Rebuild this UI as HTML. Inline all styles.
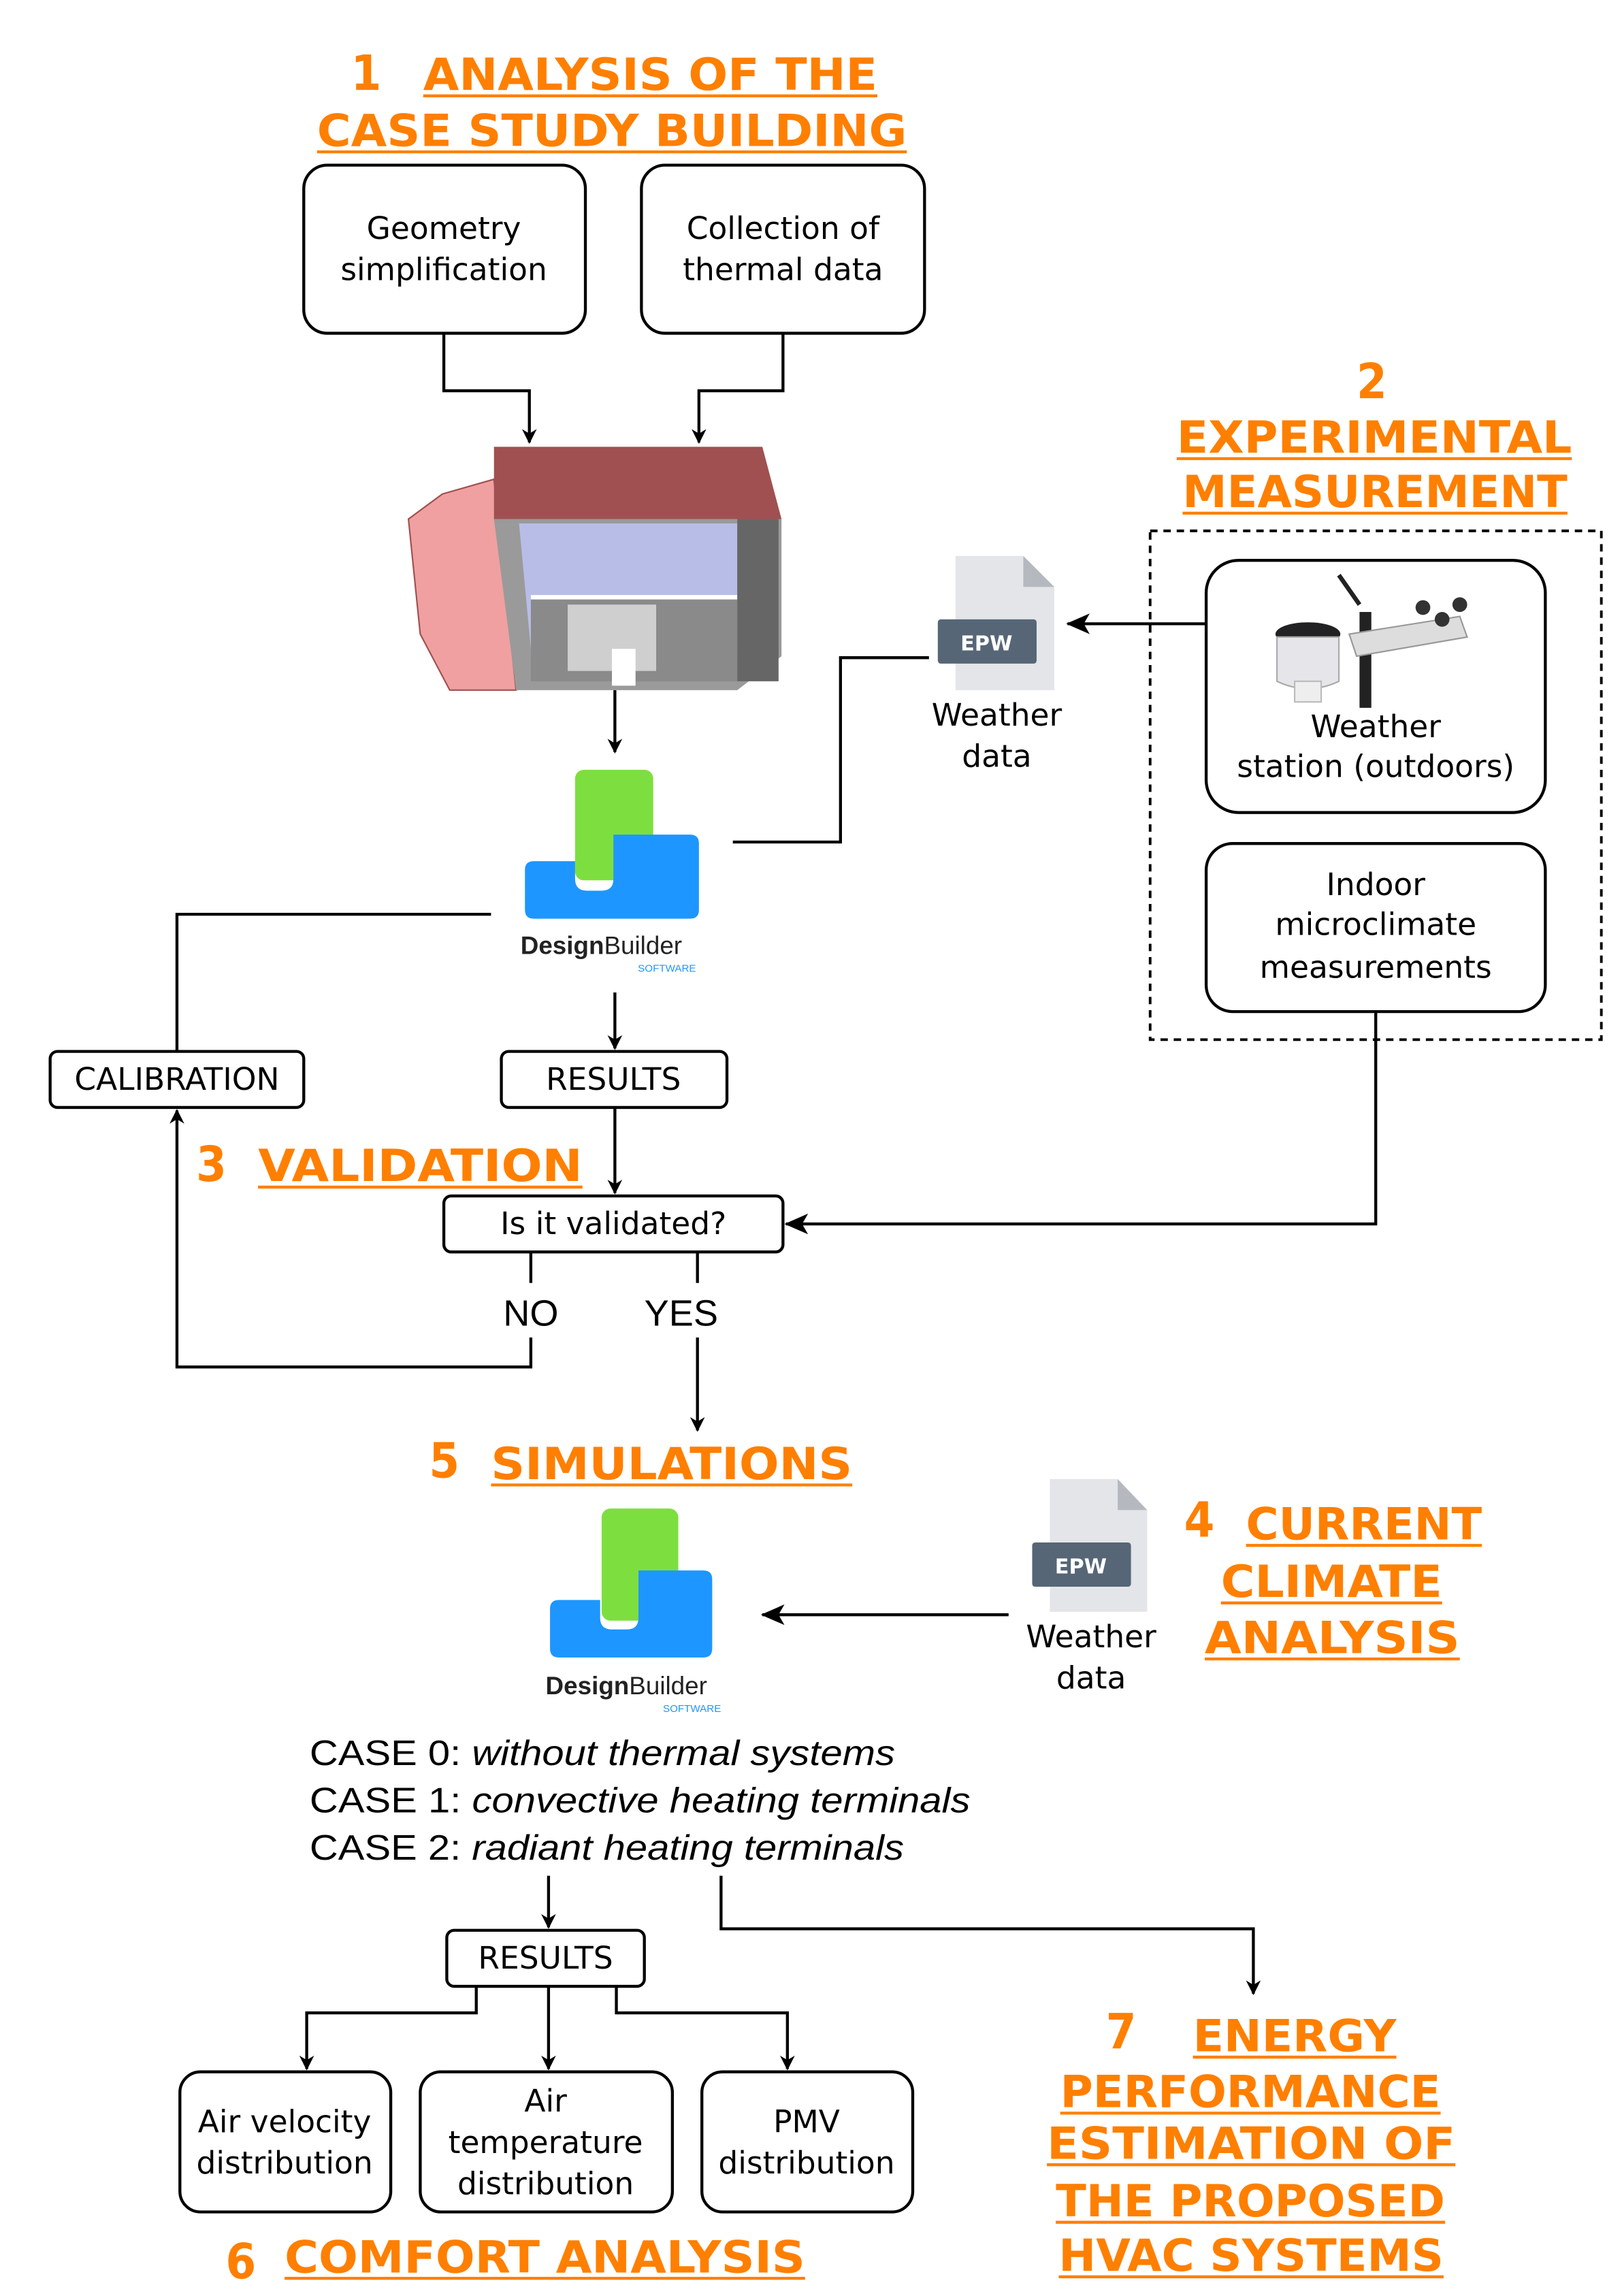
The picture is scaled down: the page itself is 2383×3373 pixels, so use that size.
<!DOCTYPE html>
<html><head><meta charset="utf-8"><style>html,body{margin:0;padding:0;background:#fff}svg{display:block}</style></head>
<body>
<svg width="2383" height="3373" viewBox="0 0 1100 1557" xmlns="http://www.w3.org/2000/svg">
<defs>
<marker id="a" markerWidth="10" markerHeight="10" refX="9" refY="5" orient="auto" markerUnits="userSpaceOnUse"><path d="M0,0 L10,5 L0,10 L3,5 Z" fill="#000"/></marker>
<marker id="b" markerWidth="16" markerHeight="14" refX="15" refY="7" orient="auto" markerUnits="userSpaceOnUse"><path d="M0,0 L16,7 L0,14 L4,7 Z" fill="#000"/></marker>
</defs>
<rect width="1100" height="1557" fill="#fff"/>
<g font-family="'DejaVu Sans Condensed','DejaVu Sans',sans-serif" font-weight="bold" fill="#FF7F00">
<text x="238" y="61" font-size="33">1</text>
<text x="287" y="61" font-size="30" textLength="308" lengthAdjust="spacingAndGlyphs">ANALYSIS OF THE</text>
<text x="215" y="99" font-size="30" textLength="400" lengthAdjust="spacingAndGlyphs">CASE STUDY BUILDING</text>
<text x="920" y="270" font-size="33">2</text>
<text x="798" y="307" font-size="30" textLength="268" lengthAdjust="spacingAndGlyphs">EXPERIMENTAL</text>
<text x="802" y="344" font-size="30" textLength="261" lengthAdjust="spacingAndGlyphs">MEASUREMENT</text>
<text x="133" y="801" font-size="33">3</text>
<text x="175" y="801" font-size="30" textLength="220" lengthAdjust="spacingAndGlyphs">VALIDATION</text>
<text x="291" y="1002" font-size="33">5</text>
<text x="333" y="1003" font-size="30" textLength="245" lengthAdjust="spacingAndGlyphs">SIMULATIONS</text>
<text x="803" y="1042" font-size="33">4</text>
<text x="845" y="1044" font-size="30" textLength="160" lengthAdjust="spacingAndGlyphs">CURRENT</text>
<text x="828" y="1083" font-size="30" textLength="150" lengthAdjust="spacingAndGlyphs">CLIMATE</text>
<text x="817" y="1121" font-size="30" textLength="173" lengthAdjust="spacingAndGlyphs">ANALYSIS</text>
<text x="153" y="1545" font-size="33">6</text>
<text x="193" y="1541" font-size="30" textLength="353" lengthAdjust="spacingAndGlyphs">COMFORT ANALYSIS</text>
<text x="750" y="1389" font-size="33">7</text>
<text x="809" y="1391" font-size="30" textLength="138" lengthAdjust="spacingAndGlyphs">ENERGY</text>
<text x="719" y="1429" font-size="30" textLength="258" lengthAdjust="spacingAndGlyphs">PERFORMANCE</text>
<text x="710" y="1464" font-size="30" textLength="277" lengthAdjust="spacingAndGlyphs">ESTIMATION OF</text>
<text x="716" y="1503" font-size="30" textLength="264" lengthAdjust="spacingAndGlyphs">THE PROPOSED</text>
<text x="718" y="1540" font-size="30" textLength="261" lengthAdjust="spacingAndGlyphs">HVAC SYSTEMS</text>
</g>
<g stroke="#FF7F00" stroke-width="2">
<line x1="287" y1="65" x2="595" y2="65"/><line x1="215" y1="103" x2="615" y2="103"/>
<line x1="798" y1="311" x2="1066" y2="311"/><line x1="802" y1="348" x2="1063" y2="348"/>
<line x1="175" y1="805" x2="395" y2="805"/><line x1="333" y1="1007" x2="578" y2="1007"/>
<line x1="845" y1="1048" x2="1005" y2="1048"/><line x1="828" y1="1087" x2="978" y2="1087"/><line x1="817" y1="1125" x2="990" y2="1125"/>
<line x1="193" y1="1545" x2="546" y2="1545"/>
<line x1="809" y1="1395" x2="947" y2="1395"/><line x1="719" y1="1433" x2="977" y2="1433"/><line x1="710" y1="1468" x2="987" y2="1468"/><line x1="716" y1="1507" x2="980" y2="1507"/><line x1="718" y1="1544" x2="979" y2="1544"/>
</g>
<g fill="#fff" stroke="#000" stroke-width="2">
<rect x="206" y="112" width="191" height="114" rx="16"/>
<rect x="435" y="112" width="192" height="114" rx="16"/>
<rect x="818" y="380" width="230" height="171" rx="22"/>
<rect x="818" y="572" width="230" height="114" rx="18"/>
<rect x="34" y="713" width="172" height="38" rx="5"/>
<rect x="340" y="713" width="153" height="38" rx="5"/>
<rect x="301" y="811" width="230" height="38" rx="5"/>
<rect x="303" y="1309" width="134" height="38" rx="5"/>
<rect x="122" y="1405" width="143" height="95" rx="14"/>
<rect x="285" y="1405" width="171" height="95" rx="14"/>
<rect x="476" y="1405" width="143" height="95" rx="14"/>
</g>
<rect x="780" y="360" width="306" height="345" fill="none" stroke="#000" stroke-width="1.8" stroke-dasharray="5,4"/>
<g font-family="'DejaVu Sans','Liberation Sans',sans-serif" font-size="21" fill="#000" text-anchor="middle">
<text x="301" y="162">Geometry</text><text x="301" y="190">simplification</text>
<text x="531" y="162">Collection of</text><text x="531" y="190">thermal data</text>
<text x="676" y="492">Weather</text><text x="676" y="520">data</text>
<text x="933" y="500">Weather</text><text x="933" y="527">station (outdoors)</text>
<text x="933" y="607">Indoor</text><text x="933" y="634">microclimate</text><text x="933" y="663">measurements</text>
<text x="120" y="739">CALIBRATION</text>
<text x="416" y="739">RESULTS</text>
<text x="416" y="837">Is it validated?</text>
<text x="370" y="1335">RESULTS</text>
<text x="740" y="1117">Weather</text><text x="740" y="1145">data</text>
<text x="193" y="1446">Air velocity</text><text x="193" y="1474">distribution</text>
<text x="370" y="1432">Air</text><text x="370" y="1460">temperature</text><text x="370" y="1488">distribution</text>
<text x="547" y="1446">PMV</text><text x="547" y="1474">distribution</text>
</g>
<g font-family="'Liberation Sans',sans-serif" font-size="25" fill="#000">
<text x="360" y="899" text-anchor="middle">NO</text>
<text x="462" y="899" text-anchor="middle">YES</text>
<text x="210" y="1197" font-size="24" textLength="397" lengthAdjust="spacingAndGlyphs">CASE 0: <tspan font-style="italic">without thermal systems</tspan></text>
<text x="210" y="1229" font-size="24" textLength="448" lengthAdjust="spacingAndGlyphs">CASE 1: <tspan font-style="italic">convective heating terminals</tspan></text>
<text x="210" y="1261" font-size="24" textLength="403" lengthAdjust="spacingAndGlyphs">CASE 2: <tspan font-style="italic">radiant heating terminals</tspan></text>
</g>
<g fill="none" stroke="#000" stroke-width="2">
<polyline points="301,226 301,265 359,265 359,300" marker-end="url(#a)"/>
<polyline points="531,226 531,265 474,265 474,300" marker-end="url(#a)"/>
<polyline points="417,468 417,510" marker-end="url(#a)"/>
<polyline points="497,571 570,571 570,446 630,446"/>
<polyline points="818,423 724,423" marker-end="url(#b)"/>
<polyline points="333,620 120,620 120,713"/>
<polyline points="417,673 417,711" marker-end="url(#a)"/>
<polyline points="417,751 417,809" marker-end="url(#a)"/>
<polyline points="933,686 933,830 533,830" marker-end="url(#b)"/>
<polyline points="360,849 360,870"/><polyline points="473,849 473,870"/>
<polyline points="360,907 360,927 120,927 120,753" marker-end="url(#a)"/>
<polyline points="473,907 473,970" marker-end="url(#a)"/>
<polyline points="684,1095 517,1095" marker-end="url(#b)"/>
<polyline points="372,1272 372,1307" marker-end="url(#a)"/>
<polyline points="489,1272 489,1308 850,1308 850,1352" marker-end="url(#a)"/>
<polyline points="323,1347 323,1365 208,1365 208,1403" marker-end="url(#a)"/>
<polyline points="372,1347 372,1403" marker-end="url(#a)"/>
<polyline points="418,1347 418,1365 534,1365 534,1403" marker-end="url(#a)"/>
</g>
<g>
<polygon points="277,352 300,335 335,325 350,468 305,468 285,430" fill="#f0a0a0" stroke="#a05050" stroke-width="1"/>
<polygon points="335,352 530,352 530,445 500,468 350,468" fill="#9a9a9a"/>
<polygon points="352,355 500,355 500,440 360,440" fill="#b8bde8"/>
<polygon points="360,405 500,405 500,462 360,462" fill="#8a8a8a"/>
<rect x="385" y="410" width="60" height="45" fill="#cfcfcf"/>
<rect x="415" y="440" width="16" height="25" fill="#fff"/>
<line x1="360" y1="405" x2="500" y2="405" stroke="#fff" stroke-width="3"/>
<polygon points="335,303 517,303 530,352 335,352" fill="#a05050"/>
<rect x="500" y="352" width="28" height="110" fill="#666"/>
</g>
<g>
<rect x="390" y="522" width="53" height="75" rx="6" fill="#7ddf3f"/>
<path d="M356,590 q0,-6 6,-6 h28 v12 q0,8 8,8 h10 q8,0 8,-8 v-30 h52 q6,0 6,6 v45 q0,6 -6,6 h-106 q-6,0 -6,-6z" fill="#1e96ff"/>
<text x="353" y="647" font-family="'Liberation Sans',sans-serif" font-size="17" fill="#222"><tspan font-weight="bold">Design</tspan>Builder</text>
<text x="472" y="659" font-family="'Liberation Sans',sans-serif" font-size="7" fill="#1e96ff" text-anchor="end">SOFTWARE</text>
<rect x="408" y="1023" width="52" height="76" rx="6" fill="#7ddf3f"/>
<path d="M373,1091 q0,-6 6,-6 h28 v12 q0,8 8,8 h10 q8,0 8,-8 v-32 h44 q6,0 6,6 v47 q0,6 -6,6 h-98 q-6,0 -6,-6z" fill="#1e96ff"/>
<text x="370" y="1149" font-family="'Liberation Sans',sans-serif" font-size="17" fill="#222"><tspan font-weight="bold">Design</tspan>Builder</text>
<text x="489" y="1161" font-family="'Liberation Sans',sans-serif" font-size="7" fill="#1e96ff" text-anchor="end">SOFTWARE</text>
</g>
<g>
<path d="M648,377 h46 l21,21 v70 h-67z" fill="#e3e5e8"/><path d="M694,377 v21 h21z" fill="#b5b9bf"/>
<rect x="636" y="420" width="67" height="30" rx="2" fill="#566676"/>
<text x="669" y="441" font-family="'DejaVu Sans',sans-serif" font-weight="bold" font-size="14" fill="#fff" text-anchor="middle">EPW</text>
<path d="M712,1003 h46 l20,21 v69 h-66z" fill="#e3e5e8"/><path d="M758,1003 v21 h20z" fill="#b5b9bf"/>
<rect x="700" y="1046" width="67" height="30" rx="2" fill="#566676"/>
<text x="733" y="1067" font-family="'DejaVu Sans',sans-serif" font-weight="bold" font-size="14" fill="#fff" text-anchor="middle">EPW</text>
</g>
<g>
<rect x="922" y="415" width="8" height="65" fill="#222"/>
<polygon points="915,430 990,418 995,432 920,445" fill="#ddd" stroke="#999"/>
<ellipse cx="887" cy="430" rx="22" ry="8" fill="#222"/>
<path d="M866,432 h42 v30 q-21,10 -42,0z" fill="#e6e6ea" stroke="#aaa"/>
<rect x="878" y="462" width="18" height="14" fill="#eee" stroke="#bbb"/>
<circle cx="965" cy="412" r="5" fill="#333"/><circle cx="990" cy="410" r="5" fill="#333"/><circle cx="978" cy="420" r="5" fill="#333"/>
<line x1="908" y1="390" x2="922" y2="410" stroke="#222" stroke-width="3"/>
</g>
</svg>
</body></html>
